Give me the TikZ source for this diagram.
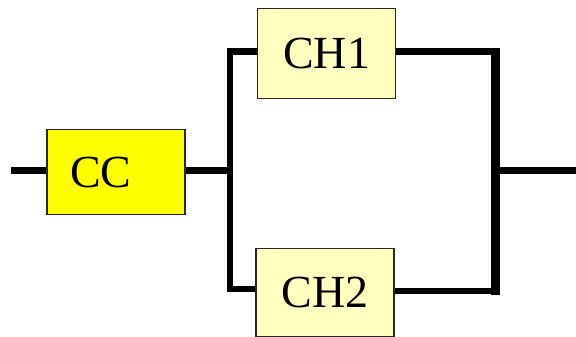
\documentclass[tikz,border=0pt]{standalone}
\usepackage{fontspec}
\setmainfont{Liberation Serif}
\usetikzlibrary{backgrounds}
\definecolor{ccfill}{HTML}{FFFF00}
\definecolor{chfill}{HTML}{FFFFC0}
\tikzset{
  blk/.style={draw=black!85, line width=1.4pt, inner sep=0pt, font=\fontsize{46}{50}\selectfont},
  wire/.style={line width=6.8pt, line cap=butt, line join=miter},
  thickwire/.style={line width=9pt, line cap=butt}
}
\begin{document}
\begin{tikzpicture}[x=1pt,y=-1pt]
\useasboundingbox (0,0) rectangle (576,337);
\node[blk, fill=ccfill, minimum height=85pt, inner xsep=23pt, text width=92pt, align=left] (cc) at (116,172) {CC};
\node[blk, fill=chfill, minimum width=138pt, minimum height=90pt] (ch1) at (326.7,53.3) {CH1};
\node[blk, fill=chfill, minimum width=138pt, minimum height=88.7pt] (ch2) at (325,292.7) {CH2};
\coordinate (in) at (11,170.5);
\coordinate (j1) at (230,170.5);
\coordinate (j1t) at (230,51.5);
\coordinate (j1b) at (230,289);
\coordinate (j2t) at (495,48);
\coordinate (j2b) at (495,295);
\coordinate (r1) at (499.5,51.5);
\coordinate (r2) at (499.5,291);
\coordinate (j2) at (495,170.5);
\coordinate (out) at (576,170.5);
\begin{scope}[on background layer]
\draw[wire] (in) -- (cc.west |- in);
\draw[wire] (cc.east |- j1) -- (j1);
\draw[wire] (ch1.west |- j1t) -- (j1t) -- (j1b) -- (ch2.west |- j1b);
\draw[wire] (ch1.east |- r1) -- (r1);
\draw[wire] (ch2.east |- r2) -- (r2);
\draw[thickwire] (j2t) -- (j2b);
\draw[wire] (j2) -- (out);
\end{scope}
\end{tikzpicture}
\end{document}
